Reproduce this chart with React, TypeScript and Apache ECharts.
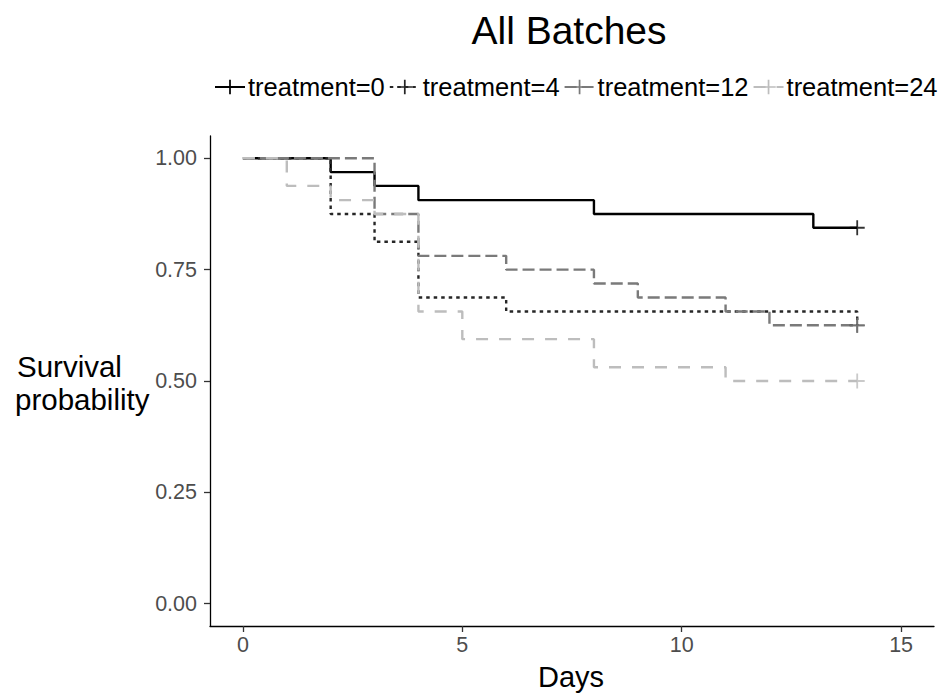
import React, { useEffect, useRef } from "react";
import * as echarts from "echarts";

const seriesNames = ["treatment=0", "treatment=4", "treatment=12", "treatment=24"];
const t0Days = [0, 2, 3, 4, 8, 13, 14];
const t0Surv = [1, 0.969, 0.938, 0.906, 0.875, 0.844, 0.844];
const t4Days = [0, 2, 3, 4, 6, 14];
const t4Surv = [1, 0.875, 0.8125, 0.6875, 0.656, 0.625];
const t12Days = [0, 3, 4, 6, 8, 9, 11, 12, 14];
const t12Surv = [1, 0.875, 0.781, 0.75, 0.719, 0.6875, 0.656, 0.625, 0.625];
const t24Days = [0, 1, 2, 3, 4, 5, 8, 11, 14];
const t24Surv = [1, 0.938, 0.906, 0.875, 0.656, 0.594, 0.531, 0.5, 0.5];
const censorDay = [14, 14, 14, 14];
const censorSurv = [0.844, 0.625, 0.625, 0.5];
const xTicks = [0, 5, 10, 15];
const yTicks = [0, 0.25, 0.5, 0.75, 1];

const colors = ["#000000", "#262626", "#7a7a7a", "#bdbdbd"];
const dashes: any[] = ["solid", [3.5, 4], [12, 5], [12, 11]];
const plus = "path://M-1.2,-10h2.4v8.8h8.8v2.4h-8.8v8.8h-2.4v-8.8h-8.8v-2.4h8.8z";

const FONT = "'Liberation Sans', Arial, sans-serif";

export default function App() {
  const ref = useRef<HTMLDivElement>(null);
  useEffect(() => {
    if (!ref.current) return;
    const chart = echarts.init(ref.current, null, { renderer: "svg" });
    const lineData = [
      t0Days.map((d, i) => [d, t0Surv[i]]),
      t4Days.map((d, i) => [d, t4Surv[i]]),
      t12Days.map((d, i) => [d, t12Surv[i]]),
      t24Days.map((d, i) => [d, t24Surv[i]]),
    ];
    const series: any[] = [];
    seriesNames.forEach((name, i) => {
      series.push({
        type: "line",
        name,
        data: lineData[i],
        step: "end",
        showSymbol: false,
        symbol: plus,
        color: colors[i],
        itemStyle: { color: colors[i] },
        lineStyle: { color: colors[i], width: 2.4, type: dashes[i] },
        z: 2 + i,
      });
    });
    seriesNames.forEach((name, i) => {
      series.push({
        type: "scatter",
        name: "censor" + i,
        data: [[censorDay[i], censorSurv[i]]],
        symbol: plus,
        symbolSize: 15,
        itemStyle: { color: colors[i] },
        z: 10 + i,
      });
    });
    chart.setOption({
      animation: false,
      backgroundColor: "#ffffff",
      textStyle: { fontFamily: FONT },
      grid: { left: 210, right: 5, top: 136, bottom: 69, containLabel: false },
      legend: {
        data: seriesNames,
        left: 214,
        top: 74,
        padding: 0,
        itemGap: 4,
        itemWidth: 30,
        itemHeight: 18,
        selectedMode: false,
        textStyle: { fontSize: 25.5, color: "#000000", fontFamily: FONT, padding: [0, 0, 0, -2] },
      },
      xAxis: {
        type: "value",
        min: -0.75,
        max: 15.75,
        splitLine: { show: false },
        axisLine: { show: true, onZero: false, lineStyle: { color: "#000000", width: 1.3 } },
        axisTick: { show: true, length: 6, customValues: xTicks, lineStyle: { color: "#333333", width: 1.3 } },
        axisLabel: {
          customValues: xTicks,
          margin: 8,
          fontSize: 21.5,
          color: "#4d4d4d",
          fontFamily: FONT,
        },
      },
      yAxis: {
        type: "value",
        min: -0.05,
        max: 1.05,
        splitLine: { show: false },
        axisLine: { show: true, onZero: false, lineStyle: { color: "#000000", width: 1.3 } },
        axisTick: { show: true, length: 6, customValues: yTicks, lineStyle: { color: "#333333", width: 1.3 } },
        axisLabel: {
          customValues: yTicks,
          margin: 13,
          fontSize: 21.5,
          color: "#4d4d4d",
          fontFamily: FONT,
          formatter: (v: number) => v.toFixed(2),
        },
      },
      graphic: [
        {
          type: "text",
          x: 569,
          y: 30,
          style: { text: "All Batches", font: "39px " + FONT, fill: "#000", textAlign: "center", textVerticalAlign: "middle" },
        },
        {
          type: "text",
          x: 17,
          y: 366,
          style: { text: "Survival", font: "29.5px " + FONT, fill: "#000", textAlign: "left", textVerticalAlign: "middle" },
        },
        {
          type: "text",
          x: 15,
          y: 399,
          style: { text: "probability", font: "29.5px " + FONT, fill: "#000", textAlign: "left", textVerticalAlign: "middle" },
        },
        {
          type: "text",
          x: 571,
          y: 677,
          style: { text: "Days", font: "29px " + FONT, fill: "#000", textAlign: "center", textVerticalAlign: "middle" },
        },
      ],
      series,
    });
    return () => chart.dispose();
  }, []);
  return (
    <div
      ref={ref}
      style={{ position: "fixed", left: 0, top: 0, width: 939, height: 695, background: "#fff" }}
    />
  );
}
